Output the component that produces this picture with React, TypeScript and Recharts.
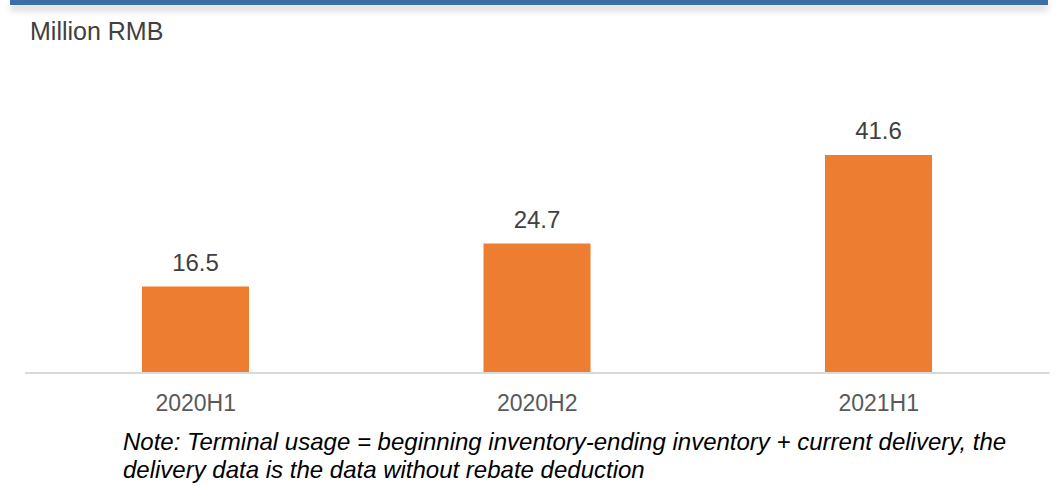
import React from "react";
import { BarChart, Bar, XAxis, YAxis, LabelList } from "recharts";

const categories = ["2020H1", "2020H2", "2021H1"];
const values = [16.5, 24.7, 41.6];

const data = categories.map((c, i) => ({ name: c, value: values[i] }));

const FONT = "'Liberation Sans', Arial, sans-serif";

export default function App() {
  return (
    <div style={{ position: "absolute", left: 0, top: 0, width: 1059, height: 486, background: "#fff", fontFamily: FONT, overflow: "hidden" }}>
      <div style={{ position: "absolute", left: 10, top: 0, width: 1038, height: 5, background: "#3d6fa7", boxShadow: "0 5px 7px rgba(0,0,0,0.2)" }} />
      <div style={{ position: "absolute", left: 30, top: 18, fontSize: 25, color: "#404040", lineHeight: "26px", whiteSpace: "nowrap" }}>Million RMB</div>
      <div style={{ position: "absolute", left: 0, top: 0 }}>
        <BarChart width={1059} height={486} data={data} margin={{ top: 111, right: 9.5, left: 25, bottom: 83 }}>
          <XAxis
            dataKey="name"
            height={30}
            tickLine={false}
            tickSize={0}
            tickMargin={22}
            axisLine={{ stroke: "#d9d9d9", strokeWidth: 2 }}
            tick={{ fill: "#595959", fontSize: 23, fontFamily: FONT }}
          />
          <YAxis hide domain={[0, 50]} />
          <Bar dataKey="value" fill="#ED7D31" barSize={107} isAnimationActive={false}>
            <LabelList dataKey="value" position="top" offset={16} fill="#404040" fontSize={24} fontFamily={FONT} />
          </Bar>
        </BarChart>
      </div>
      <div style={{ position: "absolute", left: 123, top: 428, fontSize: 24, fontStyle: "italic", color: "#000", lineHeight: "28px", whiteSpace: "nowrap" }}>
        Note: Terminal usage = beginning inventory-ending inventory + current delivery, the<br />
        delivery data is the data without rebate deduction
      </div>
    </div>
  );
}
